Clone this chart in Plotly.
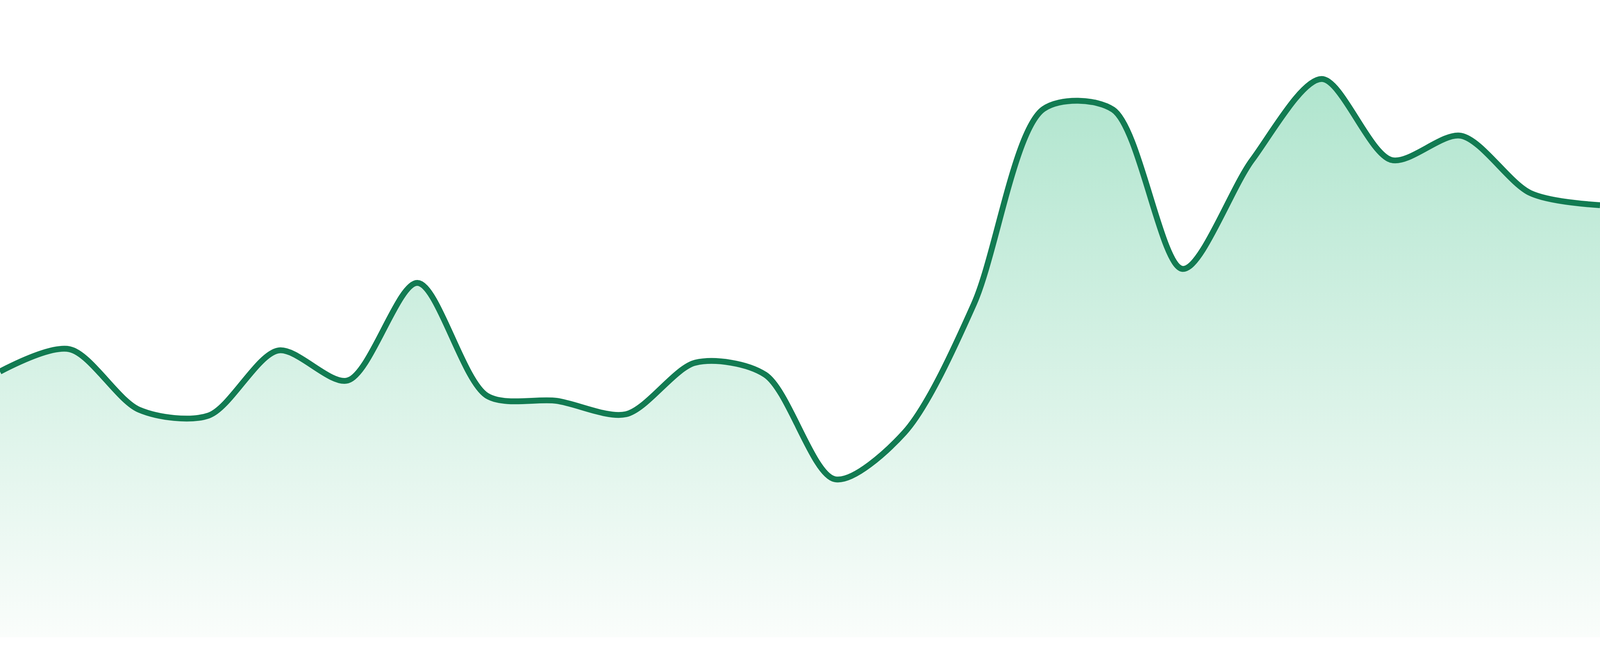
import plotly.graph_objects as go

# one point per period, evenly spaced across the full width
periods = list(range(24))
values = [41.7, 45.2, 35.7, 34.8, 45.0, 40.3, 55.6, 37.9, 37.1, 35.0, 43.1, 41.2,
          24.8, 32.1, 52.3, 82.9, 82.8, 57.8, 74.9, 87.6, 74.9, 78.7, 69.7, 67.8]

line_color = "#127b52"
fill_top = "rgb(176,229,206)"
fill_bottom = "rgb(250,253,251)"


def run():
    fig = go.Figure()
    fig.add_trace(go.Scatter(
        x=periods,
        y=values,
        mode="lines",
        line=dict(color=line_color, width=15, shape="spline", smoothing=0.85),
        fill="tozeroy",
        fillgradient=dict(type="vertical", colorscale=[[0, fill_bottom], [1, fill_top]]),
        hoverinfo="skip",
    ))

    fig.update_layout(
        margin={"r": 0, "t": 0, "l": 0, "b": 48},
        paper_bgcolor="white",
        plot_bgcolor="white",
        showlegend=False,
    )
    fig.update_xaxes(visible=False, range=[0, 23])
    fig.update_yaxes(visible=False, range=[0, 100])

    # fill the whole window, no body margin
    fix_body = "document.body.style.margin='0';document.body.style.overflow='hidden';"
    fig.write_html("out.html", default_width="100vw", default_height="100vh",
                   config={"responsive": True, "displayModeBar": False},
                   post_script=fix_body)


run()
